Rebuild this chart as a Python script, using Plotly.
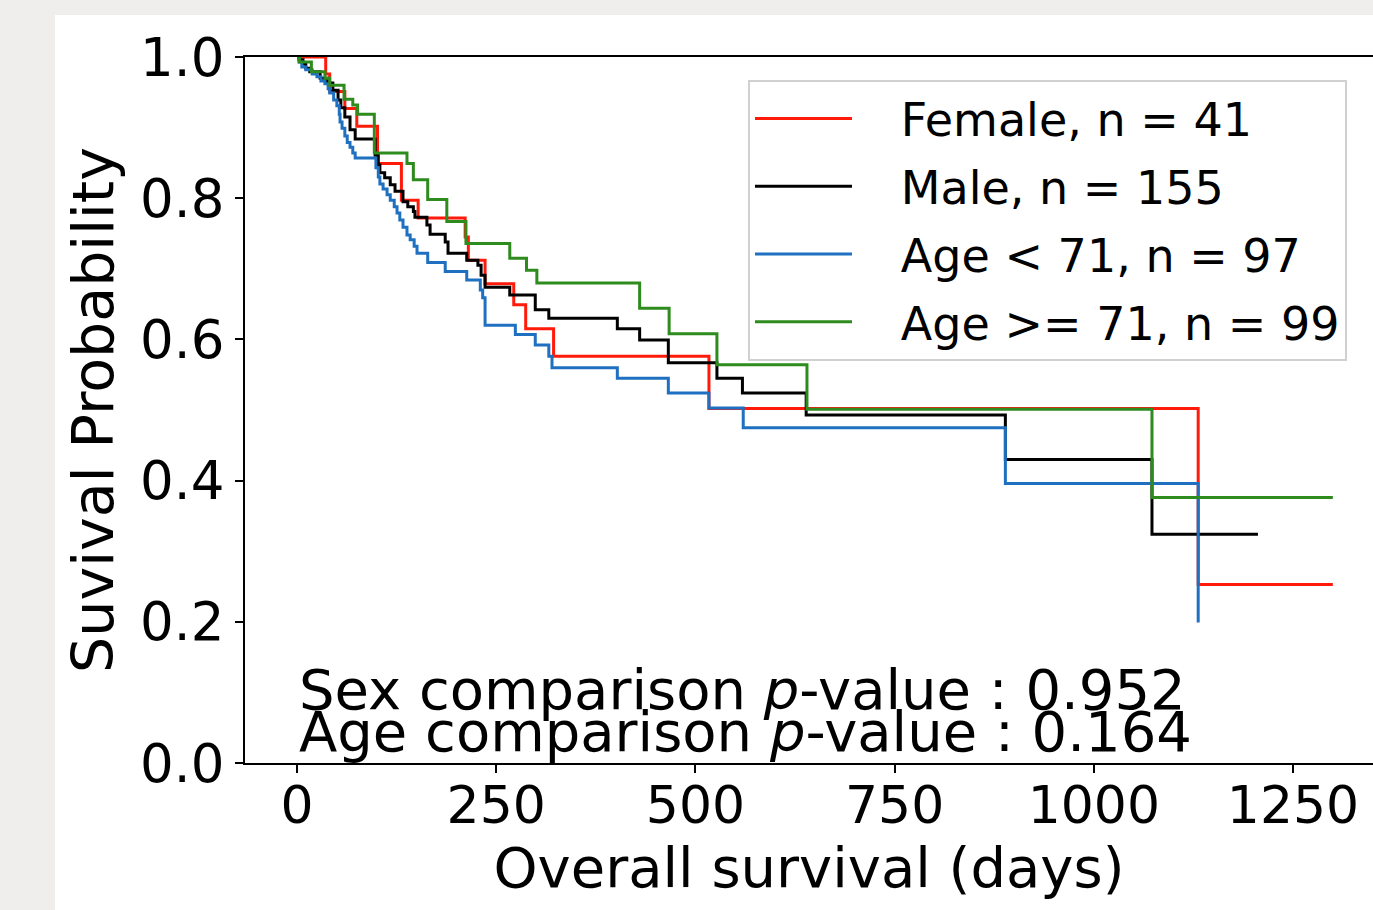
import plotly.graph_objects as go

# ---- data (days, survival probability) ----
female_t = [0, 36, 41, 60, 75, 101, 131, 152, 211, 215, 236, 272, 287, 322, 517, 1131]
female_s = [1.0, 0.976, 0.951, 0.927, 0.902, 0.849, 0.797, 0.772, 0.745, 0.712, 0.679, 0.649, 0.615, 0.576, 0.502, 0.253]
female_end = 1300

male_t = [0, 2.5, 7.5, 11, 16, 29, 38, 45, 51.5, 55, 60, 66.5, 73, 98, 102, 104, 110, 117, 123,
          133, 139, 146, 148, 163, 167, 186, 189.5, 213, 227, 231, 236, 267, 299, 316, 402, 430,
          466, 527, 559, 639, 889, 1073]
male_s = [1.0, 0.996, 0.990, 0.984, 0.979, 0.970, 0.963, 0.953, 0.939, 0.928, 0.915, 0.897, 0.884,
          0.861, 0.847, 0.836, 0.829, 0.819, 0.810, 0.795, 0.788, 0.781, 0.773, 0.762, 0.749, 0.738,
          0.722, 0.712, 0.705, 0.691, 0.674, 0.663, 0.642, 0.630, 0.615, 0.599, 0.567, 0.545, 0.524,
          0.493, 0.430, 0.324]
male_end = 1206

young_t = [0, 2.5, 6, 11, 19, 25, 30, 35, 39, 41, 46, 50, 53, 54, 56.5, 60, 63, 66.5, 70, 73,
           99, 102, 104, 108, 113, 117, 122, 125.5, 129, 133, 138, 142, 147, 150.6, 164, 186, 213,
           230, 233, 236, 274, 299, 316, 320, 402, 466, 517, 560, 889, 1131]
young_s = [1.0, 0.993, 0.986, 0.982, 0.976, 0.972, 0.966, 0.962, 0.955, 0.949, 0.939, 0.931, 0.919,
           0.908, 0.899, 0.888, 0.879, 0.872, 0.864, 0.857, 0.843, 0.830, 0.820, 0.813, 0.805, 0.797,
           0.788, 0.779, 0.769, 0.759, 0.748, 0.741, 0.732, 0.722, 0.709, 0.696, 0.684, 0.670, 0.659,
           0.620, 0.607, 0.592, 0.576, 0.560, 0.545, 0.524, 0.503, 0.475, 0.396, 0.199]
young_end = 1131

old_t = [0, 3, 18, 35, 41, 59, 70, 76, 97, 138, 146, 164, 188, 212, 267, 288, 301, 430, 467, 527, 640, 1073]
old_s = [1.0, 0.993, 0.979, 0.970, 0.960, 0.940, 0.932, 0.919, 0.864, 0.849, 0.826, 0.798, 0.767,
         0.736, 0.715, 0.698, 0.680, 0.644, 0.608, 0.564, 0.501, 0.376]
old_end = 1300

x_ticks = [0, 250, 500, 750, 1000, 1250]
y_ticks = [0.0, 0.2, 0.4, 0.6, 0.8, 1.0]

NB = "\u00a0" * 3
series = [
    ("Female, n = 41", female_t, female_s, female_end, "#ff1a0a"),
    ("Male, n = 155", male_t, male_s, male_end, "#000000"),
    ("Age &lt; 71, n = 97", young_t, young_s, young_end, "#1f70c0"),
    ("Age &gt;= 71, n = 99", old_t, old_s, old_end, "#2e8b1e"),
]

FONT = "DejaVu Sans"
fig = go.Figure()
for i, (name, t, s, end, col) in enumerate(series):
    xs = list(t)
    ys = list(s)
    if end > xs[-1]:
        xs.append(end)
        ys.append(ys[-1])
    fig.add_trace(go.Scatter(x=xs, y=ys, mode="lines", name=NB + name, legendgroup="g%d" % i,
                             line=dict(color=col, width=3, shape="hv")))

W, H = 1373, 910
L, R, T, B = 245, 0, 57, 147
pw, ph = W - L - R, H - T - B

# white figure area over the light grey page
fig.add_shape(type="rect", xref="paper", yref="paper",
              x0=(55 - L) / pw, x1=1.01, y0=-(B + 5) / ph, y1=(T + ph - 15) / ph,
              fillcolor="white", line=dict(width=0), layer="below")

fig.add_annotation(x=0, y=0.1048, xref="x", yref="y", xanchor="left", yanchor="middle",
                   text="Sex comparison <i>p</i>-value : 0.952", showarrow=False,
                   font=dict(family=FONT, size=56, color="black"))
fig.add_annotation(x=0, y=0.0453, xref="x", yref="y", xanchor="left", yanchor="middle",
                   text="Age comparison <i>p</i>-value : 0.164", showarrow=False,
                   font=dict(family=FONT, size=56, color="black"))

fig.update_layout(
    width=W, height=H, autosize=False,
    margin=dict(l=L, r=R, t=T, b=B),
    paper_bgcolor="#efeeec", plot_bgcolor="white",
    font=dict(family=FONT, color="black"),
    showlegend=True,
    legend=dict(x=(748 - L) / pw, y=(T + ph - 80) / ph, xanchor="left", yanchor="top",
                bgcolor="white", bordercolor="#d0d0d0", borderwidth=2,
                font=dict(family=FONT, size=46, color="black"), itemwidth=97,
                tracegroupgap=5),
    xaxis=dict(range=[-65.3, (W - 297) / 0.7968], tickvals=x_ticks,
               ticktext=[str(v) for v in x_ticks],
               showgrid=False, zeroline=False, showline=True, mirror=True,
               linecolor="black", linewidth=2, ticks="outside", ticklen=8,
               tickwidth=2, tickcolor="black", ticklabelstandoff=-12,
               tickfont=dict(family=FONT, size=52, color="black"),
               title=dict(text="Overall survival (days)", standoff=0,
                          font=dict(family=FONT, size=56, color="black"))),
    yaxis=dict(range=[0, 1.0], tickvals=y_ticks, ticktext=["%.1f" % v for v in y_ticks],
               showgrid=False, zeroline=False, showline=True, mirror=False,
               linecolor="black", linewidth=2, ticks="outside", ticklen=8,
               tickwidth=2, tickcolor="black",
               tickfont=dict(family=FONT, size=53, color="black"),
               title=dict(text="Suvival Probability", standoff=8,
                          font=dict(family=FONT, size=57, color="black"))),
)

fig.write_html("out.html")
